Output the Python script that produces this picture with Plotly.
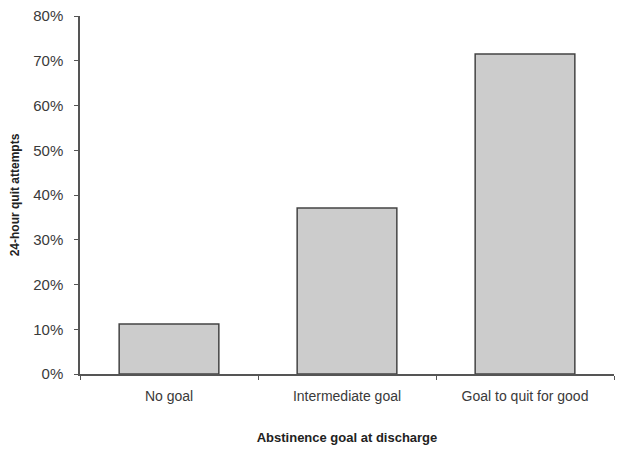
import plotly.graph_objects as go

categories = ["No goal", "Intermediate goal", "Goal to quit for good"]
values = [0.112, 0.371, 0.715]
y_ticks = [0, 0.1, 0.2, 0.3, 0.4, 0.5, 0.6, 0.7, 0.8]

fig = go.Figure(go.Bar(
    x=categories, y=values,
    marker=dict(color="#cccccc", line=dict(color="#444444", width=1.5)),
    width=0.56,
))

fig.update_layout(
    width=624, height=457,
    margin=dict(l=72, r=18, t=8, b=91),
    plot_bgcolor="white", paper_bgcolor="white",
    font=dict(family="Liberation Sans, Arial, sans-serif", size=14, color="#3a3a3a"),
    showlegend=False,
    bargap=0.44,
)
fig.update_xaxes(
    automargin=False,
    showline=True, linecolor="#555555", linewidth=1.5,
    ticks="outside", tickson="boundaries", ticklen=4, tickcolor="#555555",
    ticklabelstandoff=8,
    showgrid=False,
    title=dict(text="<b>Abstinence goal at discharge</b>", font=dict(size=13, color="#222222"), standoff=30),
)
fig.update_yaxes(
    automargin=False,
    range=[0, 0.8], tickvals=y_ticks, tickformat=".0%",
    tickfont=dict(size=15),
    showline=True, linecolor="#555555", linewidth=1.5,
    ticks="outside", ticklen=4, tickcolor="#555555",
    ticklabelstandoff=8, ticklabeloverflow="allow",
    showgrid=False, zeroline=False,
    title=dict(text="<b>24-hour quit attempts</b>", font=dict(size=12, color="#222222"), standoff=13),
)

fig.write_html("out.html")
